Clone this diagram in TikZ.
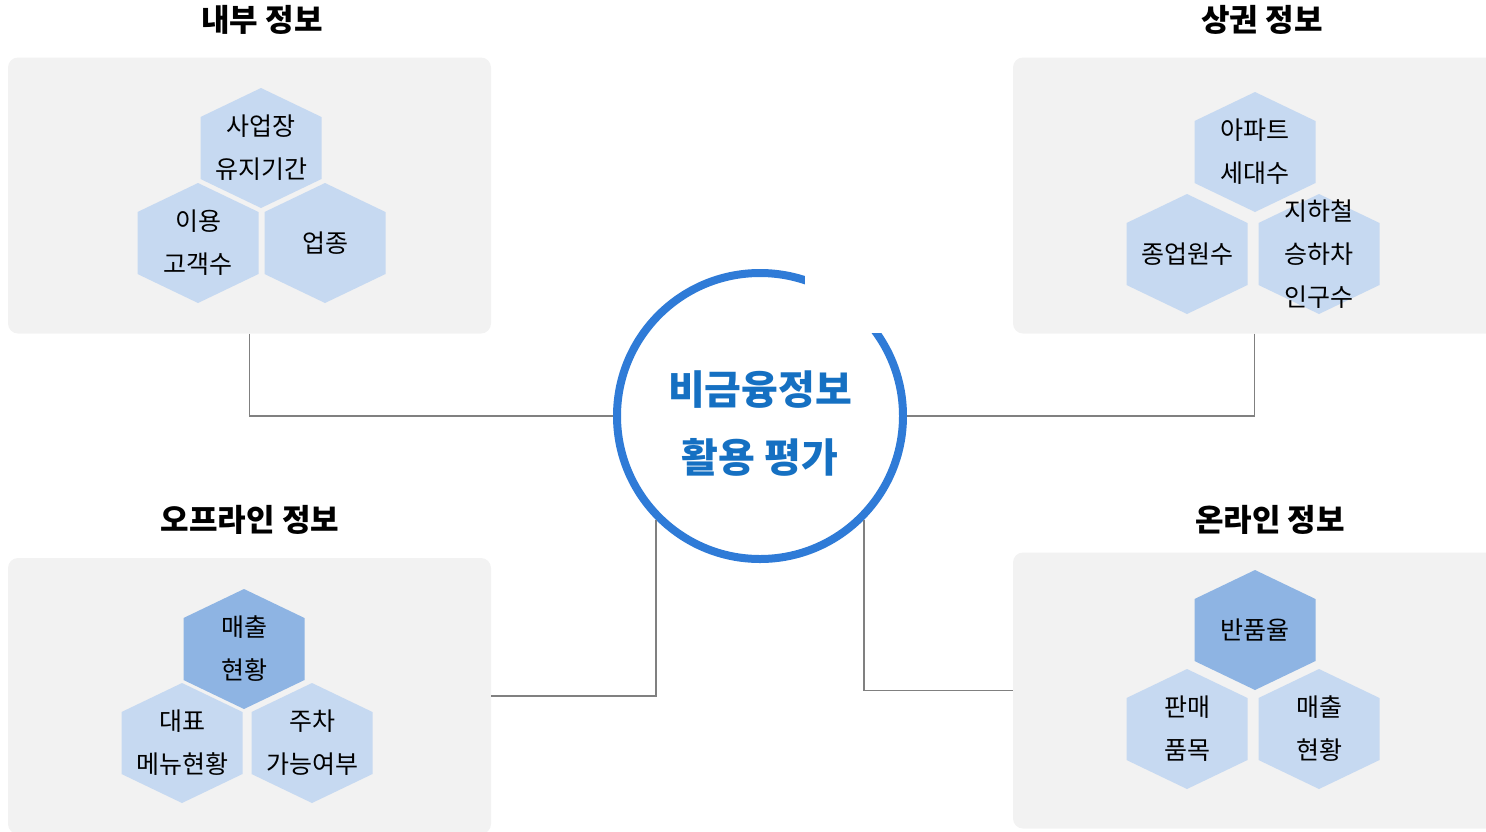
\documentclass[tikz,border=0pt]{standalone}
\usepackage{fontspec}
\setmainfont{Noto Sans CJK KR}
\usetikzlibrary{positioning}
\definecolor{panelgray}{HTML}{F2F2F2}
\definecolor{hexlight}{HTML}{C6D9F1}
\definecolor{hexdark}{HTML}{8EB4E3}
\definecolor{ringblue}{HTML}{2F7BD7}
\definecolor{titleblue}{HTML}{1570C2}
\definecolor{linkgray}{HTML}{808080}
\tikzset{
  panel/.style={fill=panelgray, rounded corners=10pt, minimum width=483pt, minimum height=276pt, inner sep=0pt},
  head/.style={font=\fontsize{31}{34}\selectfont\bfseries},
  cell/.style={align=center, font=\fontsize{25}{43}\selectfont, inner sep=0pt},
  link/.style={draw=linkgray, line width=1.5pt},
}
\newcommand\hexcell[5]{
  \def\hw{60.5}
  \def\hs{31}
  \fill[#3] (#1, #2-60) -- (#1+\hw, #2-\hs) -- (#1+\hw, #2+\hs) -- (#1, #2+60) -- (#1-\hw, #2+\hs) -- (#1-\hw, #2-\hs) -- cycle;
  \node[cell] (#4) at (#1, #2) {#5};
}
\begin{document}
\begin{tikzpicture}[x=1pt, y=-1pt]
      \useasboundingbox (0,0) rectangle (1486,831);

      \node[panel] (inner) at (249.5, 195.5) {};
      \node[panel] (area) at (1254.5, 195.5) {};
      \node[panel] (offline) at (249.5, 696) {};
      \node[panel] (online) at (1254.5, 690.5) {};

      \node[head] (innerhead) at (262, 20) {내부 정보};
      \node[head] (areahead) at (1262, 20) {상권 정보};
      \node[head] (offlinehead) at (250, 520) {오프라인 정보};
      \node[head] (onlinehead) at (1270, 520) {온라인 정보};

      \hexcell{261}{148}{hexlight}{tenure}{사업장\\유지기간}
      \hexcell{198}{243}{hexlight}{visitors}{이용\\고객수}
      \hexcell{325}{243}{hexlight}{sector}{업종}

      \hexcell{1255}{152}{hexlight}{households}{아파트\\세대수}
      \hexcell{1187}{254}{hexlight}{workers}{종업원수}
      \hexcell{1319}{254}{hexlight}{riders}{지하철\\승하차\\인구수}

      \hexcell{244}{649}{hexdark}{offsales}{매출\\현황}
      \hexcell{182}{743}{hexlight}{menu}{대표\\메뉴현황}
      \hexcell{312}{743}{hexlight}{parking}{주차\\가능여부}

      \hexcell{1255}{630}{hexdark}{returns}{반품율}
      \hexcell{1187}{729}{hexlight}{items}{판매\\품목}
      \hexcell{1319}{729}{hexlight}{onsales}{매출\\현황}

      \node[circle, draw=ringblue, line width=8pt, fill=white, minimum size=286pt, inner sep=0pt] (core) at (760, 416) {};
      \fill[white] (805, 255) rectangle (915, 333);
      \node[align=center, text=titleblue, font=\fontsize{40}{68}\selectfont\bfseries] (corelabel) at (760, 424) {비금융정보\\활용 평가};

      \draw[link] (inner.south) |- (core.west);
      \draw[link] (area.south) |- (core.east);
      \draw[link] (offline.east) -| (core.225);
      \draw[link] (online.west) -| (core.315);
    \end{tikzpicture}
\end{document}
